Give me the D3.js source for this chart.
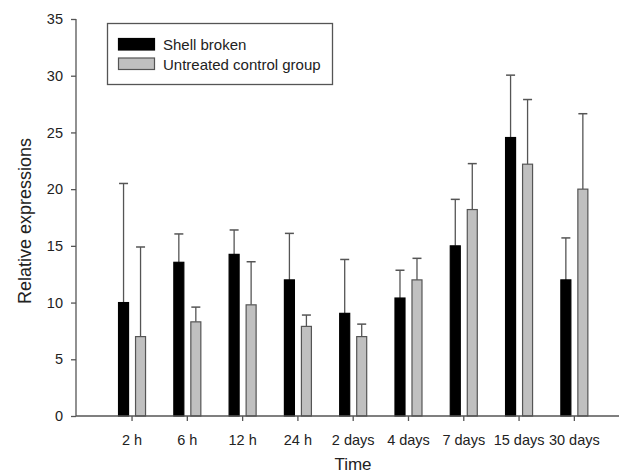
<!DOCTYPE html>
<html>
<head>
<meta charset="utf-8">
<script src="https://cdn.jsdelivr.net/npm/d3@7"></script>
<style>
  html, body { margin: 0; padding: 0; background: #fff; }
  svg { display: block; font-family: "Liberation Sans", Arial, sans-serif; }
</style>
</head>
<body>
<svg id="chart" width="620" height="474"></svg>
<script>
// ---- data ----
const categories = ["2 h", "6 h", "12 h", "24 h", "2 days", "4 days", "7 days", "15 days", "30 days"];
const seriesNames = ["Shell broken", "Untreated control group"];
const shellBroken      = [10.0, 13.55, 14.25, 12.0, 9.05, 10.4, 15.0, 24.55, 12.0];
const shellBrokenErr   = [10.5, 2.5, 2.15, 4.1, 4.75, 2.45, 4.1, 5.5, 3.7];
const controlGroup     = [7.0, 8.3, 9.8, 7.9, 7.0, 12.0, 18.2, 22.2, 20.0];
const controlGroupErr  = [7.9, 1.3, 3.8, 1.0, 1.1, 1.9, 4.05, 5.7, 6.65];
const yTicks = [0, 5, 10, 15, 20, 25, 30, 35];

// ---- layout ----
const svg = d3.select("#chart");
const axisX0 = 76, axisX1 = 619, yTop = 19, yBottom = 416;
const textColor = "#222", axisColor = "#555";

const x = d3.scaleBand().domain(categories).range([104.4, 602]).padding(0);
const y = d3.scaleLinear().domain([0, 35]).range([yBottom, yTop]);

const barW = 11, gap = 6, capW = 9;
const series = [
  { name: seriesNames[0], values: shellBroken, errs: shellBrokenErr, fill: "#000", stroke: "#000", off: -gap / 2 - barW },
  { name: seriesNames[1], values: controlGroup, errs: controlGroupErr, fill: "#c0c0c0", stroke: "#555", off: gap / 2 }
];
const cx = c => x(c) + x.bandwidth() / 2;

// error bars (upper only), drawn behind bars
series.forEach(s => {
  const g = svg.append("g");
  categories.forEach((c, i) => {
    const bx = cx(c) + s.off + barW / 2;
    const top = s.values[i] + s.errs[i];
    g.append("line").attr("x1", bx).attr("x2", bx)
      .attr("y1", y(s.values[i])).attr("y2", y(top))
      .attr("stroke", axisColor).attr("stroke-width", 1.3);
    g.append("line").attr("x1", bx - capW / 2).attr("x2", bx + capW / 2)
      .attr("y1", y(top)).attr("y2", y(top))
      .attr("stroke", axisColor).attr("stroke-width", 1.5);
  });
});

// bars
series.forEach(s => {
  svg.append("g").selectAll("rect").data(categories).join("rect")
    .attr("x", c => cx(c) + s.off + 0.5)
    .attr("y", (c, i) => y(s.values[i]))
    .attr("width", barW - 1)
    .attr("height", (c, i) => y(0) - y(s.values[i]))
    .attr("fill", s.fill)
    .attr("stroke", s.stroke)
    .attr("stroke-width", 1.2);
});

// y axis
const yAxis = svg.append("g").attr("transform", `translate(${axisX0},0)`)
  .call(d3.axisLeft(y).tickValues(yTicks).tickSize(5).tickPadding(8).tickFormat(d3.format("d")));
yAxis.select(".domain").remove();
yAxis.selectAll(".tick line").attr("stroke", axisColor).attr("stroke-width", 1.3);
yAxis.selectAll(".tick text").attr("fill", textColor).style("font-size", "14.5px");
svg.append("line").attr("x1", axisX0).attr("x2", axisX0).attr("y1", yTop).attr("y2", yBottom)
  .attr("stroke", axisColor).attr("stroke-width", 1.3);

// x axis
const xAxis = svg.append("g").attr("transform", `translate(0,${yBottom})`)
  .call(d3.axisBottom(x).tickSize(5).tickPadding(13.5));
xAxis.select(".domain").remove();
xAxis.selectAll(".tick line").attr("stroke", axisColor).attr("stroke-width", 1.3);
xAxis.selectAll(".tick text").attr("fill", textColor).style("font-size", "14.5px");
svg.append("line").attr("x1", axisX0).attr("x2", axisX1).attr("y1", yBottom).attr("y2", yBottom)
  .attr("stroke", axisColor).attr("stroke-width", 1.3);

// axis titles
svg.append("text").attr("x", 353).attr("y", 470).attr("text-anchor", "middle")
  .attr("fill", textColor).style("font-size", "17px").text("Time");
svg.append("text").attr("transform", "translate(31,221) rotate(-90)").attr("text-anchor", "middle")
  .attr("fill", textColor).style("font-size", "18px").text("Relative expressions");

// legend
const lg = svg.append("g");
lg.append("rect").attr("x", 107.5).attr("y", 23.5).attr("width", 225).attr("height", 61)
  .attr("fill", "#fff").attr("stroke", axisColor).attr("stroke-width", 1.3);
series.forEach((s, i) => {
  const yy = 38.5 + i * 19.5;
  lg.append("rect").attr("x", 118.5).attr("y", yy).attr("width", 36).attr("height", 11.5)
    .attr("fill", s.fill).attr("stroke", s.stroke).attr("stroke-width", 1.2);
  lg.append("text").attr("x", 163).attr("y", yy + 11.5).attr("fill", textColor)
    .style("font-size", "15px").text(s.name);
});
</script>
</body>
</html>
